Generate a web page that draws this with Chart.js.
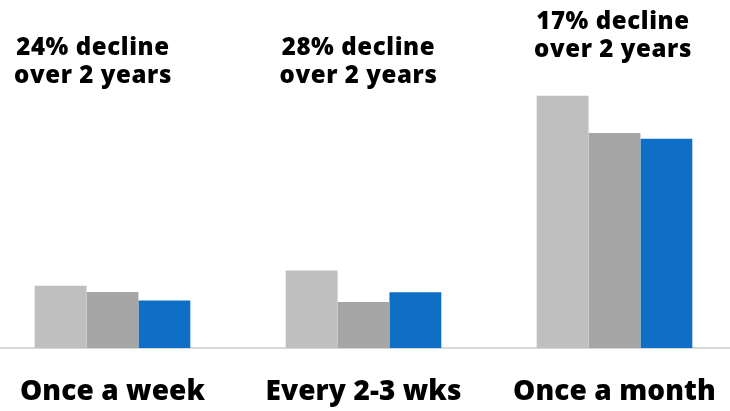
<!DOCTYPE html>
<html>
<head>
<meta charset="utf-8">
<script src="https://cdn.jsdelivr.net/npm/chart.js@4/dist/chart.umd.min.js"></script>
<style>
	html, body { margin: 0; padding: 0; background: #fff; overflow: hidden; }
	#wrap { position: absolute; left: -13px; top: 0; width: 753px; height: 411px; }
</style>
</head>
<body>
<div id="wrap"><canvas id="freq-chart"></canvas></div>
<script>
// Shopping frequency, three survey waves.
var categories = [ 'Once a week', 'Every 2-3 wks', 'Once a month' ];
var seriesNames = [ 'Two years ago', 'Last year', 'This year' ];
var wave1 = [ 14.3, 17.8, 58.0 ];
var wave2 = [ 12.9, 10.6, 49.4 ];
var wave3 = [ 10.9, 12.8, 48.1 ];
var declineNotes = [ '24% decline', '28% decline', '17% decline' ];

var barColors = [ '#bfbfbf', '#a6a6a6', '#0f6fc6' ];

// Two-line note above each group, pushed up over tall bars.
var declinePlugin = {
	id: 'declineNotes',
	beforeDraw: function ( chart ) {
		chart.ctx.letterSpacing = '0.1px';
	},
	afterDatasetsDraw: function ( chart, args, opts ) {
		var ctx = chart.ctx;
		var x = chart.scales.x;
		ctx.save();
		ctx.font = '800 24px "Open Sans"';
		ctx.letterSpacing = '0.6px';
		ctx.fillStyle = '#000';
		ctx.textAlign = 'center';
		ctx.textBaseline = 'alphabetic';
		declineNotes.forEach( function ( note, i ) {
			var top = Infinity;
			chart.data.datasets.forEach( function ( ds, d ) {
				var bar = chart.getDatasetMeta( d ).data[ i ];
				top = Math.min( top, bar.y );
			} );
			var base = Math.min( opts.maxBase, top - opts.gap );
			var cx = x.getPixelForValue( i ) + opts.shift[ i ];
			ctx.fillText( note, cx, base - 28 );
			ctx.fillText( 'over 2 years', cx, base );
		} );
		ctx.restore();
	}
};

new Chart( document.getElementById( 'freq-chart' ).getContext( '2d' ), {
	type: 'bar',
	data: {
		labels: categories,
		datasets: [ wave1, wave2, wave3 ].map( function ( vals, i ) {
			return {
				label: seriesNames[ i ],
				data: vals,
				backgroundColor: barColors[ i ],
				borderWidth: 0,
				barPercentage: 1.0,
				categoryPercentage: 0.62
			};
		} )
	},
	options: {
		responsive: true,
		maintainAspectRatio: false,
		animation: false,
		layout: { padding: 0 },
		plugins: {
			legend: { display: false },
			tooltip: { enabled: false },
			declineNotes: { maxBase: 83, gap: 39, shift: [ -19.5, -5, -1.5 ] }
		},
		scales: {
			x: {
				grid: { display: false, drawTicks: false },
				border: { display: true, color: '#d9d9d9', width: 2 },
				ticks: {
					color: '#000',
					padding: 27,
					font: { family: '"Open Sans"', size: 28, weight: '800' }
				},
				afterFit: function ( scale ) {
					// labels fit inside their columns, keep the full width for bars
					scale.height = 63;
					scale.paddingLeft = 0;
					scale.paddingRight = 0;
				}
			},
			y: {
				display: false,
				min: 0,
				max: 80
			}
		}
	},
	plugins: [ declinePlugin ]
} );
</script>
</body>
</html>
